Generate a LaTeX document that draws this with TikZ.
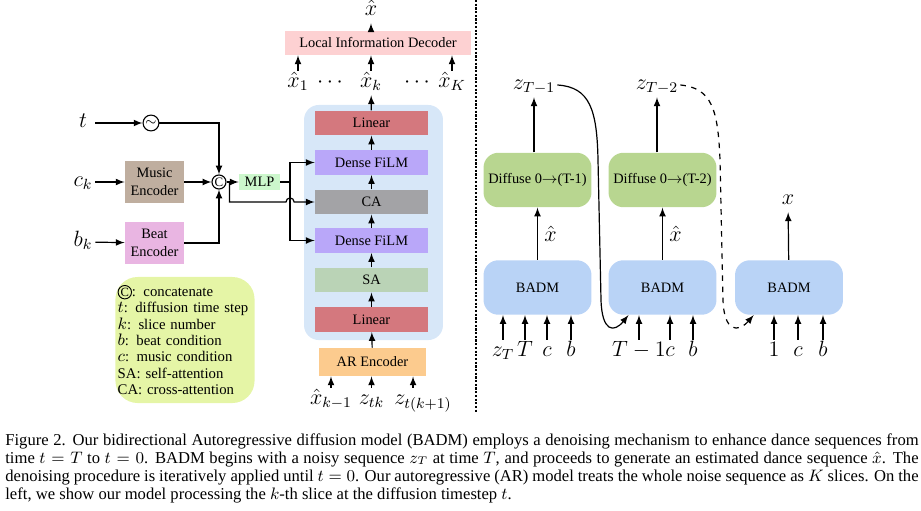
\documentclass[tikz,border=0pt]{standalone}
\usepackage{fontspec}
\setmainfont{Liberation Serif}
\usetikzlibrary{arrows}

\definecolor{decpink}{HTML}{FDD1D2}
\definecolor{linred}{HTML}{D4787E}
\definecolor{filmviolet}{HTML}{B9A7F9}
\definecolor{cagray}{HTML}{A3A3A6}
\definecolor{sagreen}{HTML}{BAD3B6}
\definecolor{arorange}{HTML}{FCCB8E}
\definecolor{stackblue}{HTML}{D7E7F8}
\definecolor{mlpgreen}{HTML}{CCF7CC}
\definecolor{musicbrown}{HTML}{BFAE9F}
\definecolor{beatpink}{HTML}{E9B5E2}
\definecolor{legendyellow}{HTML}{E5F5A6}
\definecolor{diffgreen}{HTML}{B8D690}
\definecolor{badmblue}{HTML}{B9D3F6}

\tikzstyle{block} = [rectangle, minimum width=61.2pt, minimum height=13.3pt, inner sep=0pt,
text centered, font=\fontsize{7.8}{9.5}\selectfont]
\tikzstyle{encoder} = [block, minimum width=32pt, minimum height=22.8pt, align=center]
\tikzstyle{round} = [block, rounded corners=8pt, minimum width=58.5pt, minimum height=29.5pt]
\tikzstyle{stackbox} = [rectangle, rounded corners=8pt, minimum width=75.3pt, minimum height=127.4pt, fill=stackblue]
\tikzstyle{legendbox} = [rectangle, rounded corners=12pt, fill=legendyellow, text width=73pt,
minimum height=68.3pt, inner xsep=1.2pt, align=left, font=\fontsize{8}{8.9}\selectfont]
\tikzstyle{op} = [circle, draw=black, line width=0.6pt, inner sep=0pt, minimum size=7.6pt, font=\fontsize{7}{7}\selectfont]
\tikzstyle{lab} = [font=\fontsize{12}{12}\selectfont, text height=8pt, text depth=3pt, inner sep=1pt]
\tikzstyle{leftlab} = [lab, minimum width=13pt]
\tikzstyle{caption} = [anchor=north west, text width=495pt, inner sep=0pt, align=justify,
font=\fontsize{9}{9.76}\selectfont]
\tikzstyle{arrow} = [line width=0.65pt, ->, >=latex]

\newcommand{\catsym}{\tikz[baseline=-0.6ex]\node[circle, draw=black, fill=none, line width=0.5pt, inner sep=0.3pt,
  minimum width=0pt, minimum height=0pt, text width=, align=center, font=\fontsize{6.8}{6.8}\selectfont]{C};}
\newcommand{\legmath}[1]{{\fontsize{9.5}{8.9}\selectfont$#1$}}

\begin{document}
\begin{tikzpicture}[x=0.542pt, y=-0.542pt]
\useasboundingbox (0,0) rectangle (921,510);

% ------------------------- nodes -------------------------

% ----- node: conditions
\node(t)[leftlab] at (83,123) {$t$};
\node(ck)[leftlab] at (83,182) {$c_k$};
\node(bk)[leftlab] at (83,242) {$b_k$};
\node(tilde)[op, minimum size=8.6pt] at (151,123) {$\sim$};
\node(music)[encoder, fill=musicbrown] at (154.5,182) {Music\\Encoder};
\node(beat)[encoder, fill=beatpink] at (154.5,243) {Beat\\Encoder};
\node(cat)[op] at (219,182) {C};
\node(mlp)[block, fill=mlpgreen, minimum width=22.2pt, minimum height=8.7pt] at (259.5,182) {MLP};

% ----- node: legend
\node(legend)[legendbox] at (185,340) {\catsym: concatenate\\
\legmath{t}: diffusion time step\\
\legmath{k}: slice number\\
\legmath{b}: beat condition\\
\legmath{c}: music condition\\
SA: self-attention\\
CA: cross-attention};

% ----- node: denoiser stack
\node(stack)[stackbox] at (373.5,222.5) {};
\node(lin2)[block, fill=linred] at (371.5,123) {Linear};
\node(film2)[block, fill=filmviolet] at (371.5,162.5) {Dense FiLM};
\node(ca)[block, fill=cagray] at (371.5,202) {CA};
\node(film1)[block, fill=filmviolet] at (371.5,240.5) {Dense FiLM};
\node(sa)[block, fill=sagreen] at (371.5,280) {SA};
\node(lin1)[block, fill=linred] at (371.5,319.5) {Linear};
\node(are)[block, fill=arorange, minimum width=58pt, minimum height=15.2pt] at (372.5,362) {AR Encoder};
\node(xprev)[lab] at (331,400) {$\hat{x}_{k-1}$};
\node(ztk)[lab] at (371.5,400) {$z_{tk}$};
\node(ztk1)[lab] at (423,400) {$z_{t(k+1)}$};

% ----- node: decoder
\node(x1)[lab] at (298,83) {$\hat{x}_1$};
\node(d1)[lab] at (330,83) {$\cdots$};
\node(xk)[lab] at (371,83) {$\hat{x}_k$};
\node(d2)[lab] at (417,83) {$\cdots$};
\node(xK)[lab] at (452,83) {$\hat{x}_K$};
\node(dec)[block, fill=decpink, minimum width=100.8pt, minimum height=13pt] at (378,43) {Local Information Decoder};
\node(xhat)[lab] at (371,11) {$\hat{x}$};

% ----- node: step T
\node(badm1)[round, fill=badmblue] at (537.5,287.5) {BADM};
\node(diff1)[round, fill=diffgreen] at (537.5,180) {Diffuse 0$\rightarrow$(T-1)};
\node(zT1)[lab] at (534,85) {$z_{T-1}$};
\node(zT)[lab] at (503,352) {$z_T$};
\node(T)[lab] at (525,352) {$T$};
\node(c1)[lab] at (547,352) {$c$};
\node(b1)[lab] at (571,352) {$b$};

% ----- node: step T-1
\node(badm2)[round, fill=badmblue] at (662.5,287.5) {BADM};
\node(diff2)[round, fill=diffgreen] at (662.5,180) {Diffuse 0$\rightarrow$(T-2)};
\node(zT2)[lab] at (657,85) {$z_{T-2}$};
\node(Tm1)[lab] at (639,352) {$T-1$};
\node(c2)[lab] at (670,352) {$c$};
\node(b2)[lab] at (693,352) {$b$};

% ----- node: step 1
\node(badm3)[round, fill=badmblue] at (789,287.5) {BADM};
\node(xout)[lab] at (788,200) {$x$};
\node(one)[lab] at (774,352) {$1$};
\node(c3)[lab] at (798,352) {$c$};
\node(b3)[lab] at (823,352) {$b$};

% ----- node: caption
\node(cap)[caption] at (5,433) {Figure 2. Our bidirectional Autoregressive diffusion model (BADM) employs a denoising mechanism to enhance dance sequences from time $t=T$ to $t=0$. BADM begins with a noisy sequence $z_T$ at time $T$, and proceeds to generate an estimated dance sequence $\hat{x}$. The denoising procedure is iteratively applied until $t=0$. Our autoregressive (AR) model treats the whole noise sequence as $K$ slices. On the left, we show our model processing the $k$-th slice at the diffusion timestep $t$.};

% ------------------------- connections -------------------------
\draw[arrow](t)--(tilde);
\draw[arrow](ck)--(music);
\draw[arrow](bk)--(beat);
\draw[arrow](tilde)-|(cat);
\draw[arrow](music)--(cat);
\draw[arrow](beat)-|(cat);
\draw[arrow](cat)--(mlp);
\coordinate(split) at (290,182);
\coordinate(hop) at (286,202);
\draw[arrow](mlp)--(split)|-(film2);
\draw[arrow](split)|-(film1);
\draw[arrow](cat.east)++(3,0)|-(hop) arc[start angle=180, end angle=0, radius=2.2pt]--(ca);

\draw[arrow](are)--(lin1);
\draw[arrow](lin1)--(sa);
\draw[arrow](sa)--(film1);
\draw[arrow](film1)--(ca);
\draw[arrow](ca)--(film2);
\draw[arrow](film2)--(lin2);
\draw[arrow](lin2)--(xk);
\draw[arrow](xprev.north)--(xprev.north |- are.south);
\draw[arrow](ztk.north)--(ztk.north |- are.south);
\draw[arrow]([xshift=-5.4pt]ztk1.north)--([xshift=-5.4pt]ztk1.north |- are.south);
\draw[arrow](x1.north)--(x1.north |- dec.south);
\draw[arrow](xk.north)--(xk.north |- dec.south);
\draw[arrow](xK.north)--(xK.north |- dec.south);
\draw[arrow](xhat.south |- dec.north)--(xhat);

% separator
\draw[line width=0.8pt, dash pattern=on 1.2pt off 0.8pt](476,0)--(476,412);

\draw[arrow](badm1)--node[right] {\fontsize{12}{12}\selectfont$\hat{x}$} (diff1);
\draw[arrow](zT1.south |- diff1.north)--(zT1);
\foreach \n in {zT,T,c1,b1} \draw[arrow](\n.north)--(\n.north |- badm1.south);
\draw[arrow](zT1.east) .. controls (590,87) and (597,110) .. (598,160) -- (601,300) .. controls (602,332) and (614,333) .. (badm2.219);

\draw[arrow](badm2)--node[right] {\fontsize{12}{12}\selectfont$\hat{x}$} (diff2);
\draw[arrow](zT2.south |- diff2.north)--(zT2);
\foreach \n in {Tm1,c2,b2} \draw[arrow](\n.north)--(\n.north |- badm2.south);
\draw[arrow, dashed](zT2.east) .. controls (712,88) and (718,110) .. (720,160) -- (723,300) .. controls (724,332) and (738,333) .. (badm3.218);

\draw[arrow](badm3)--(xout);
\foreach \n in {one,c3,b3} \draw[arrow](\n.north)--(\n.north |- badm3.south);

\end{tikzpicture}
\end{document}
